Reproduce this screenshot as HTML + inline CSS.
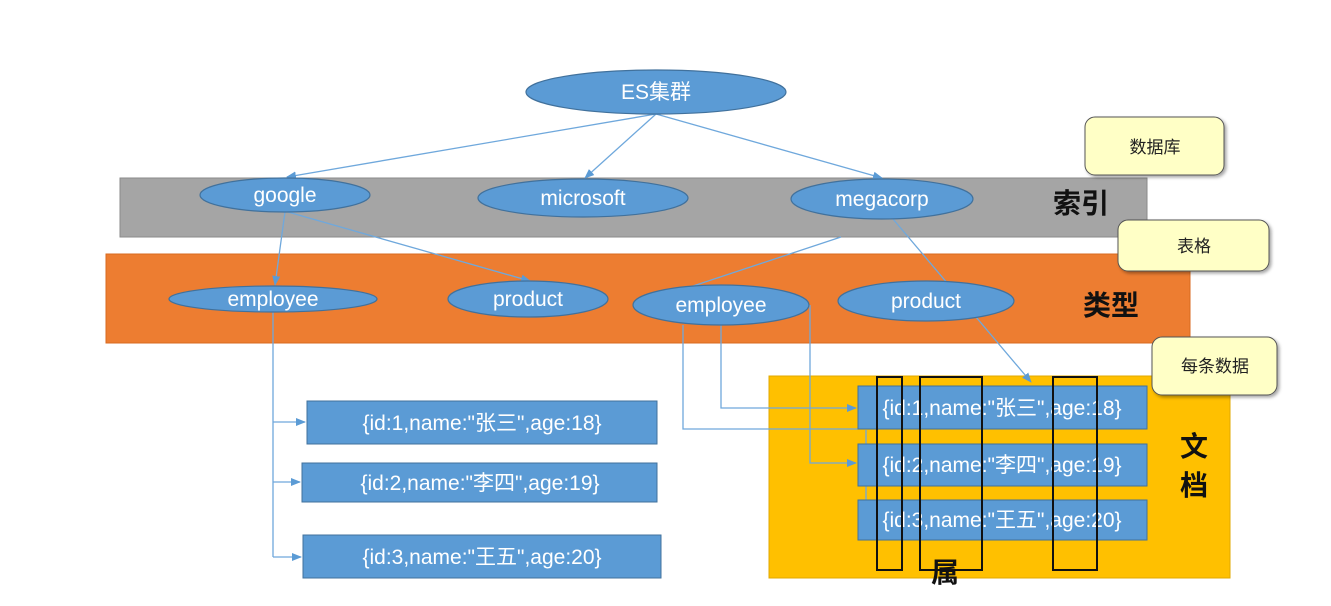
<!DOCTYPE html>
<html><head><meta charset="utf-8"><style>
html,body{margin:0;padding:0;background:#fff;width:1331px;height:606px;overflow:hidden}
text{font-family:"Liberation Sans","Noto Sans CJK SC",sans-serif}
</style></head><body>
<svg width="1331" height="606" viewBox="0 0 1331 606" xmlns="http://www.w3.org/2000/svg">
<defs>
<marker id="a" markerWidth="10" markerHeight="10" refX="9" refY="5" orient="auto" markerUnits="userSpaceOnUse"><path d="M0,1 L10,5 L0,9 z" fill="#5b9bd5"/></marker>
<filter id="sh"><feDropShadow dx="2" dy="2" stdDeviation="1.5" flood-color="#000" flood-opacity="0.35"/></filter>
</defs>
<rect x="120" y="178" width="1027" height="59" fill="#a5a5a5" stroke="#8a8a8a"/>
<rect x="106" y="254" width="1084" height="89" fill="#ed7d31" stroke="#d86a20"/>
<rect x="769" y="376" width="461" height="202" fill="#ffc000" stroke="#e0a800"/>
<g stroke="#6fa8dc" stroke-width="1.3" fill="none">
<line x1="656" y1="114" x2="287" y2="177" marker-end="url(#a)"/>
<line x1="656" y1="114" x2="585" y2="178" marker-end="url(#a)"/>
<line x1="656" y1="114" x2="882" y2="178" marker-end="url(#a)"/>
<line x1="285" y1="212" x2="275" y2="285" marker-end="url(#a)"/>
<line x1="288" y1="212" x2="530" y2="281" marker-end="url(#a)"/>
<line x1="841" y1="237" x2="690" y2="287"/>
<line x1="893" y1="219" x2="1031" y2="382" marker-end="url(#a)"/>
<polyline points="273,312 273,557"/>
<line x1="273" y1="422" x2="305" y2="422" marker-end="url(#a)"/>
<line x1="273" y1="482" x2="300" y2="482" marker-end="url(#a)"/>
<line x1="273" y1="557" x2="301" y2="557" marker-end="url(#a)"/>
<polyline points="683,325 683,429 858,429"/>
<polyline points="721,325 721,408 856,408" marker-end="url(#a)"/>
<polyline points="810,305 810,463 856,463" marker-end="url(#a)"/>
<line x1="866" y1="430" x2="866" y2="500"/>
</g>
<g fill="#5b9bd5" stroke="#41719c" stroke-width="1.2">
<ellipse cx="656" cy="92" rx="130" ry="22"/>
<ellipse cx="285" cy="195" rx="85" ry="17"/>
<ellipse cx="583" cy="198" rx="105" ry="19"/>
<ellipse cx="882" cy="199" rx="91" ry="20"/>
<ellipse cx="273" cy="299" rx="104" ry="13"/>
<ellipse cx="528" cy="299" rx="80" ry="18"/>
<ellipse cx="721" cy="305" rx="88" ry="20"/>
<ellipse cx="926" cy="301" rx="88" ry="20"/>
</g>
<g fill="#fff" font-size="21" text-anchor="middle">
<text x="656" y="99">ES集群</text>
<text x="285" y="202">google</text>
<text x="583" y="205">microsoft</text>
<text x="882" y="206">megacorp</text>
<text x="273" y="306">employee</text>
<text x="528" y="306">product</text>
<text x="721" y="312">employee</text>
<text x="926" y="308">product</text>
</g>
<g fill="#5b9bd5" stroke="#41719c">
<rect x="307" y="401" width="350" height="43"/>
<rect x="302" y="463" width="355" height="39"/>
<rect x="303" y="535" width="358" height="43"/>
<rect x="858" y="386" width="289" height="43"/>
<rect x="858" y="444" width="289" height="42"/>
<rect x="858" y="500" width="289" height="40"/>
</g>
<g fill="#fff" font-size="21" text-anchor="middle">
<text x="482" y="430">{id:1,name:"张三",age:18}</text>
<text x="480" y="490">{id:2,name:"李四",age:19}</text>
<text x="482" y="564">{id:3,name:"王五",age:20}</text>
<text x="1002" y="415">{id:1,name:"张三",age:18}</text>
<text x="1002" y="472">{id:2,name:"李四",age:19}</text>
<text x="1002" y="527">{id:3,name:"王五",age:20}</text>
</g>
<g fill="none" stroke="#111" stroke-width="2">
<rect x="877" y="377" width="25" height="193"/>
<rect x="920" y="377" width="62" height="193"/>
<rect x="1053" y="377" width="44" height="193"/>
</g>
<g fill="#111" font-size="28" font-weight="bold">
<text x="931" y="582">属</text>
<text x="1053" y="213">索引</text>
<text x="1083" y="315">类型</text>
<text x="1180" y="456">文</text>
<text x="1180" y="495">档</text>
</g>
<g fill="#ffffc6" stroke="#555" stroke-width="1" filter="url(#sh)">
<rect x="1085" y="117" width="139" height="58" rx="10"/>
<rect x="1118" y="220" width="151" height="51" rx="10"/>
<rect x="1152" y="337" width="125" height="58" rx="10"/>
</g>
<g fill="#222" font-size="17" text-anchor="middle">
<text x="1155" y="153">数据库</text>
<text x="1194" y="252">表格</text>
<text x="1215" y="372">每条数据</text>
</g>
</svg>
</body></html>
